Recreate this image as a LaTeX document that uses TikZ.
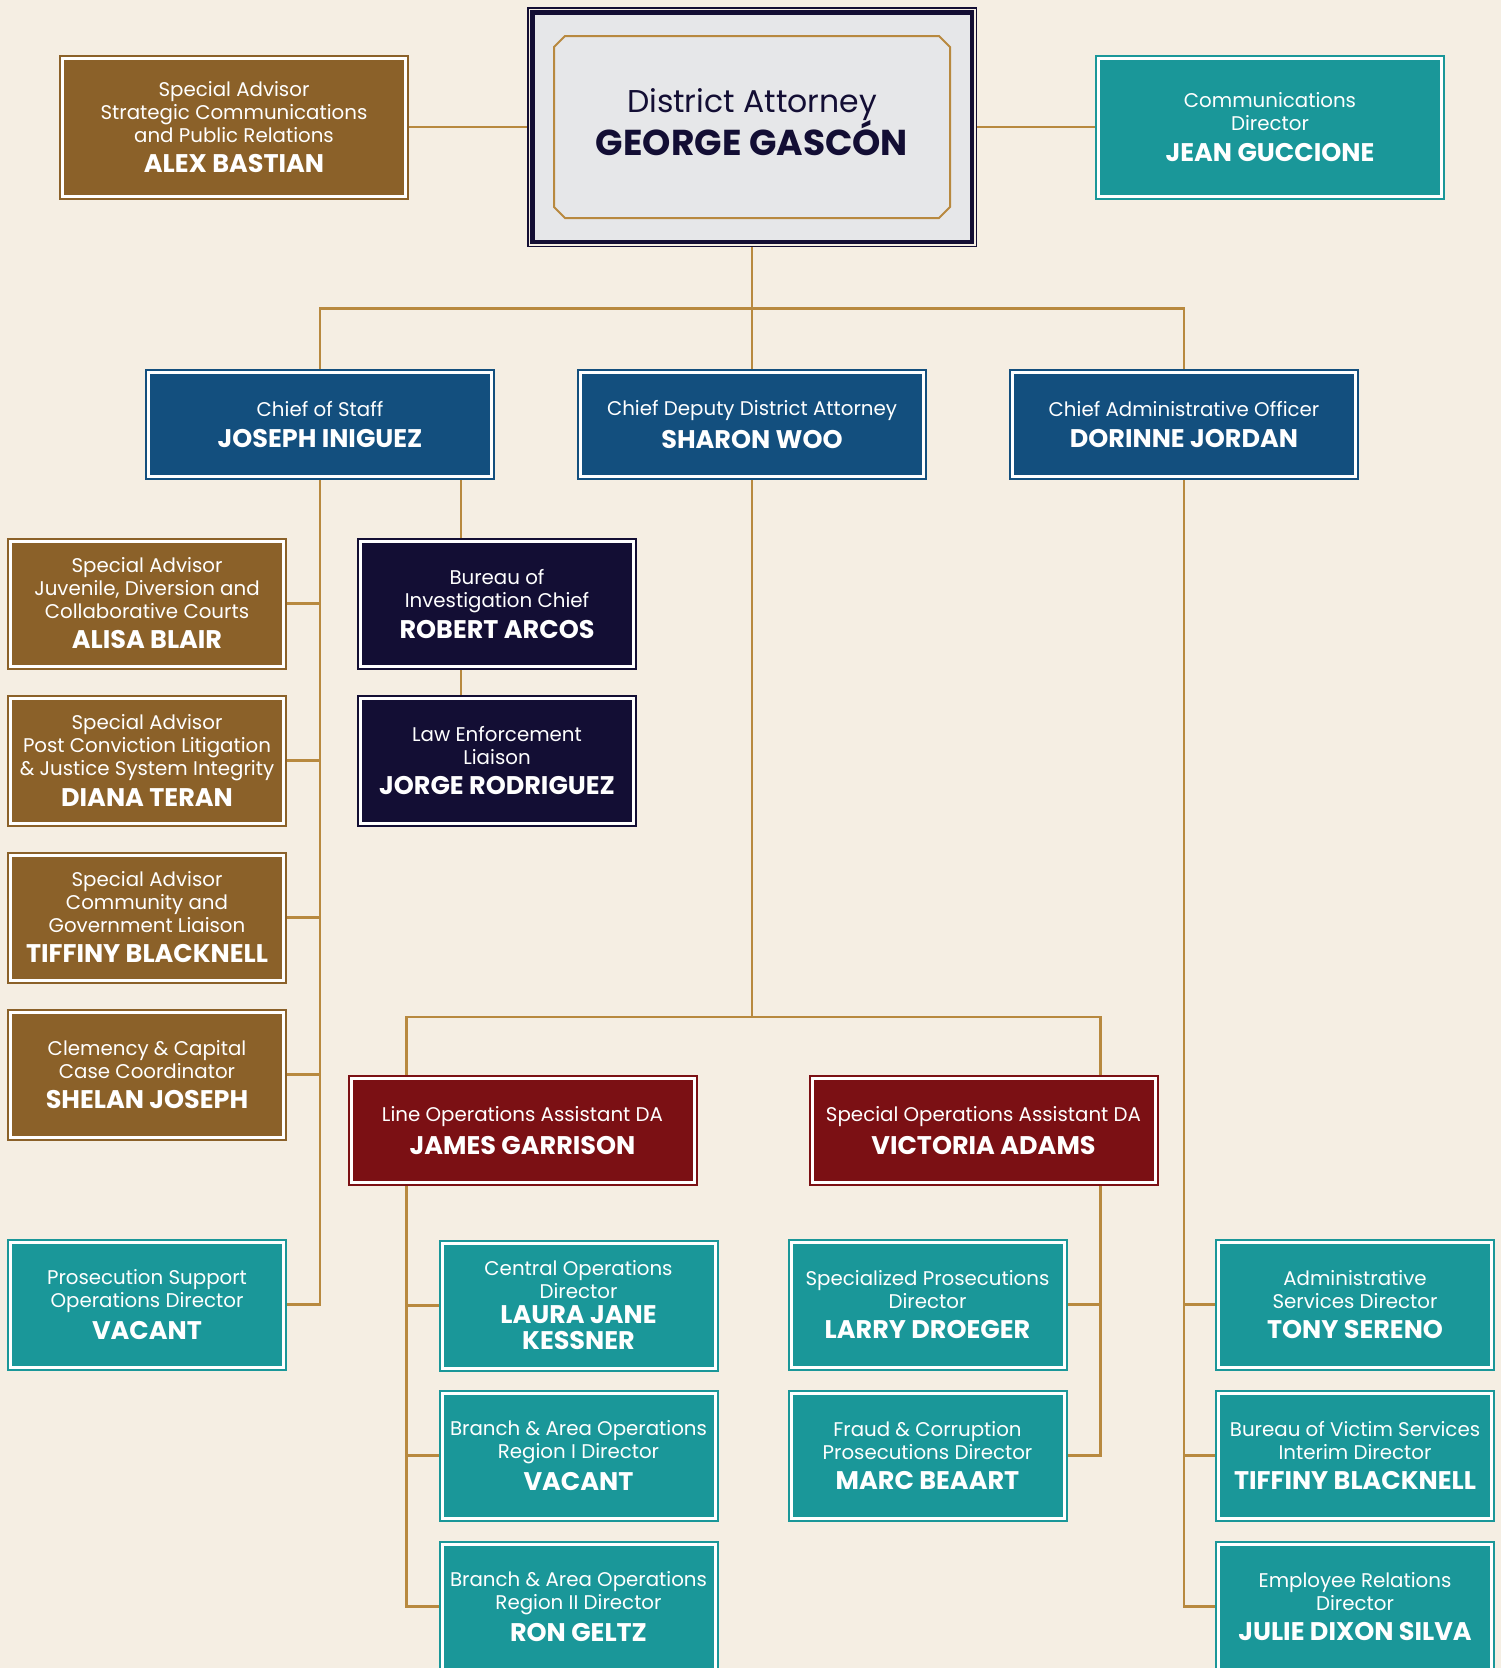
\documentclass[tikz,border=0pt]{standalone}
\usepackage{fontspec}
\setmainfont{Poppins}
\usetikzlibrary{positioning}

\definecolor{cream}{HTML}{F5EEE3}
\definecolor{gold}{HTML}{B8893F}
\definecolor{brownbox}{HTML}{8B6129}
\definecolor{bluebox}{HTML}{134F7E}
\definecolor{navybox}{HTML}{130E34}
\definecolor{tealbox}{HTML}{1A9799}
\definecolor{redbox}{HTML}{7B1014}
\definecolor{dagrey}{HTML}{E6E7E9}

\newcommand{\roletext}{\fontsize{19.8}{23}\selectfont}
\newcommand{\nametext}{\fontsize{25.5}{28}\selectfont\bfseries}

\begin{document}
\begin{tikzpicture}[x=1pt,y=-1pt,node distance=25pt,
		link/.style={draw=gold,line width=2.5pt},
		main node/.style={draw=#1,fill=#1,double=white,double distance=3pt,line width=2pt,
			outer sep=3.5pt,inner sep=0pt,text=white,align=center,font=\roletext},
		unit node/.style={main node=#1,minimum width=273pt,minimum height=125pt},
		lead node/.style={main node=#1,minimum width=343pt,minimum height=104pt},
		side node/.style={main node=#1,minimum width=343pt,minimum height=138pt}]
		
		\useasboundingbox (0,0) rectangle (1501,1668);
		\clip (0,0) rectangle (1501,1668);
		\fill[cream] (0,0) rectangle (1501,1668);
		
		% district attorney
		\node[draw=navybox,line width=4.5pt,fill=dagrey,outer sep=5.25pt,text depth=10pt,
			minimum width=439.5pt,minimum height=229.5pt,text=navybox,align=center] (da) at (752,127)
			{\fontsize{31.5}{38}\selectfont District Attorney\\[-1pt]\fontsize{36}{40}\selectfont\bfseries GEORGE GASCÓN};
		\draw[navybox,line width=1.5pt] ([shift={(0.75,0.75)}]da.north west) rectangle ([shift={(-0.75,-0.75)}]da.south east);
		\draw[gold,line width=2pt] ([shift={(-198,-80)}]da.center) -- ++(0,160) -- ++(11,11) -- ++(374,0)
			-- ++(11,-11) -- ++(0,-160) -- ++(-11,-11) -- ++(-374,0) -- cycle;
		
		\node[side node=brownbox] (alex) at (234,127) {Special Advisor\\Strategic Communications\\and Public Relations\\[7pt]\nametext ALEX BASTIAN};
		\node[side node=tealbox] (jean) at (1270,127) {Communications\\Director\\[8pt]\nametext JEAN GUCCIONE};
		
		% chiefs
		\node[lead node=bluebox] (cos) at (320,424.5) {Chief of Staff\\[8pt]\nametext JOSEPH INIGUEZ};
		\node[lead node=bluebox] (cdda) at (752,424.5) {Chief Deputy District Attorney\\[8pt]\nametext SHARON WOO};
		\node[lead node=bluebox] (cao) at (1184,424.5) {Chief Administrative Officer\\[8pt]\nametext DORINNE JORDAN};
		
		\node[unit node=navybox] (boi) at (497,604) {Bureau of\\Investigation Chief\\[7pt]\nametext ROBERT ARCOS};
		\node[unit node=navybox] (lel) [below=of boi] {Law Enforcement\\Liaison\\[7pt]\nametext JORGE RODRIGUEZ};
		
		\node[unit node=brownbox] (adv1) at (147,603.5) {Special Advisor\\Juvenile, Diversion and\\Collaborative Courts\\[7pt]\nametext ALISA BLAIR};
		\node[unit node=brownbox] (adv2) [below=of adv1] {Special Advisor\\Post Conviction Litigation\\\& Justice System Integrity\\[7pt]\nametext DIANA TERAN};
		\node[unit node=brownbox] (adv3) [below=of adv2] {Special Advisor\\Community and\\Government Liaison\\[7pt]\nametext TIFFINY BLACKNELL};
		\node[unit node=brownbox] (adv4) [below=of adv3] {Clemency \& Capital\\Case Coordinator\\[7pt]\nametext SHELAN JOSEPH};
		\node[unit node=tealbox] (pso) at (147,1304.5) {Prosecution Support\\Operations Director\\[7pt]\nametext VACANT};
		
		% assistant DAs
		\node[lead node=redbox] (lineops) at (522.5,1130.5) {Line Operations Assistant DA\\[8pt]\nametext JAMES GARRISON};
		\node[lead node=redbox] (specops) at (983.5,1130.5) {Special Operations Assistant DA\\[8pt]\nametext VICTORIA ADAMS};
		
		\node[unit node=tealbox] (central) at (578.5,1305.5) {Central Operations\\Director\\[2pt]\nametext LAURA JANE\\[3pt]\nametext KESSNER};
		\node[unit node=tealbox] (branch1) [below=18pt of central] {Branch \& Area Operations\\Region I Director\\[7pt]\nametext VACANT};
		\node[unit node=tealbox] (branch2) [below=19pt of branch1] {Branch \& Area Operations\\Region II Director\\[7pt]\nametext RON GELTZ};
		
		\node[unit node=tealbox] (specpros) at (927.5,1304.5) {Specialized Prosecutions\\Director\\[7pt]\nametext LARRY DROEGER};
		\node[unit node=tealbox] (fraud) [below=19pt of specpros] {Fraud \& Corruption\\Prosecutions Director\\[7pt]\nametext MARC BEAART};
		
		\node[unit node=tealbox] (admin) at (1355,1304.5) {Administrative\\Services Director\\[7pt]\nametext TONY SERENO};
		\node[unit node=tealbox] (victim) [below=19pt of admin] {Bureau of Victim Services\\Interim Director\\[7pt]\nametext TIFFINY BLACKNELL};
		\node[unit node=tealbox] (employee) [below=19pt of victim] {Employee Relations\\Director\\[7pt]\nametext JULIE DIXON SILVA};
		
		% connectors
		\draw[link] (alex) -- (da);
		\draw[link] (da) -- (jean);
		\draw[link] (da) -- (cdda);
		\draw[link] (da.south) -- ++(0,61.5) -| (cos.north);
		\draw[link] (da.south) -- ++(0,61.5) -| (cao.north);
		
		\coordinate (boitap) at ([xshift=-36pt]boi.north);
		\draw[link] (boitap) -- (boitap |- cos.south);
		\draw[link] (boi.south -| boitap) -- (lel.north -| boitap);
		\foreach \n in {adv1,adv2,adv3,adv4,pso}
			\draw[link] (cos.south) |- (\n.east);
		
		\coordinate (lotrunk) at ([xshift=-32pt]central.west);
		\coordinate (sotrunk) at ([xshift=33pt]specpros.east);
		\draw[link] (cdda.south) -- ++(0,537) -| (lineops.north -| lotrunk);
		\draw[link] (cdda.south) -- ++(0,537) -| (specops.north -| sotrunk);
		\foreach \n in {central,branch1,branch2}
			\draw[link] (lineops.south -| lotrunk) |- (\n.west);
		\foreach \n in {specpros,fraud}
			\draw[link] (specops.south -| sotrunk) |- (\n.east);
		\foreach \n in {admin,victim,employee}
			\draw[link] (cao.south) |- (\n.west);
\end{tikzpicture}
\end{document}
